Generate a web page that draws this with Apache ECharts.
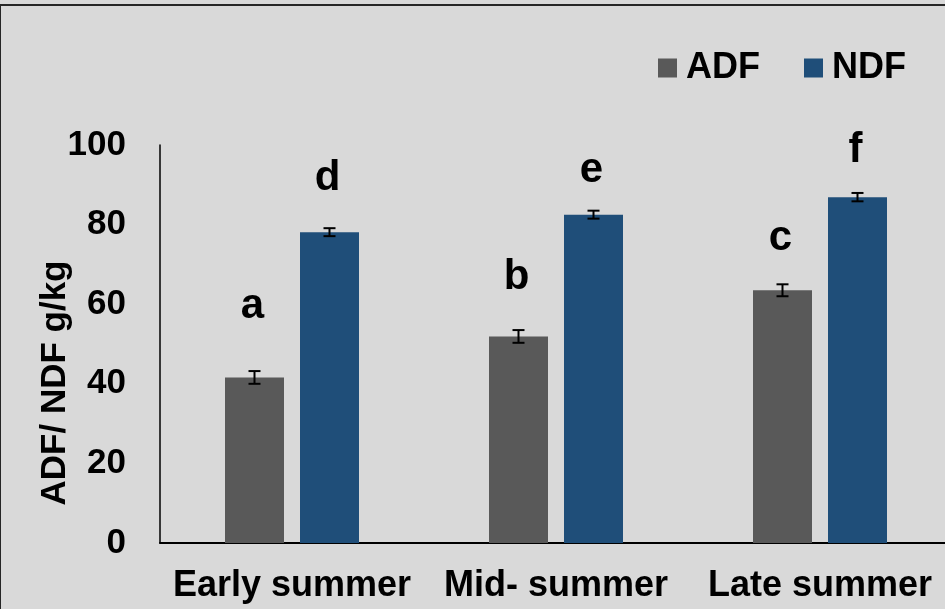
<!DOCTYPE html>
<html>
<head>
<meta charset="utf-8">
<script src="https://cdn.jsdelivr.net/npm/echarts@6/dist/echarts.min.js"></script>
<style>
html,body{margin:0;padding:0;background:#d9d9d9;}
#main{width:945px;height:609px;}
</style>
</head>
<body>
<div id="main"></div>
<script>
// ---- data ----
var categories = ['Early summer', 'Mid- summer', 'Late summer'];
var adfValues = [41.6, 51.9, 63.5];
var adfErrors = [1.6, 1.6, 1.5];
var ndfValues = [78.1, 82.5, 86.9];
var ndfErrors = [1.0, 1.0, 1.05];
var adfLetters = ['a', 'b', 'c'];
var adfLetterY = [59.5, 66.8, 76.6];
var ndfLetters = ['d', 'e', 'f'];
var ndfLetterY = [91.7, 93.7, 98.7];
var yTicks = [0, 20, 40, 60, 80, 100];

// ---- style constants ----
var FONT = "'Liberation Sans', Arial, sans-serif";
var BAR_W = 59, BAR_GAP = 16;
var OFFSET = (BAR_W + BAR_GAP) / 2;
var ADF_COLOR = '#595959', NDF_COLOR = '#1f4e79';

function errData(vals, errs) {
  return vals.map(function (v, i) { return [i, v, errs[i]]; });
}
function letterData(ys) {
  return ys.map(function (y, i) { return [i, y]; });
}
function errRender(sign) {
  return function (params, api) {
    var i = api.value(0), v = api.value(1), e = api.value(2);
    var top = api.coord([i, v + e]);
    var bot = api.coord([i, v - e]);
    var x = top[0] + sign * OFFSET;
    var cap = 6;
    var st = { stroke: '#000', lineWidth: 2 };
    return {
      type: 'group',
      children: [
        { type: 'line', shape: { x1: x, y1: top[1], x2: x, y2: bot[1] }, style: st },
        { type: 'line', shape: { x1: x - cap, y1: top[1], x2: x + cap, y2: top[1] }, style: st },
        { type: 'line', shape: { x1: x - cap, y1: bot[1], x2: x + cap, y2: bot[1] }, style: st }
      ]
    };
  };
}
function letterRender(sign, letters) {
  return function (params, api) {
    var p = api.coord([api.value(0), api.value(1)]);
    return {
      type: 'text',
      x: p[0] + sign * OFFSET - 2,
      y: p[1],
      style: {
        text: letters[params.dataIndex],
        font: 'bold 42px ' + FONT,
        fill: '#000',
        align: 'center',
        verticalAlign: 'middle'
      }
    };
  };
}

var chart = echarts.init(document.getElementById('main'), null, { renderer: 'canvas' });
chart.setOption({
  animation: false,
  backgroundColor: '#d9d9d9',
  textStyle: { fontFamily: FONT },
  graphic: [{
    type: 'rect',
    shape: { x: 0, y: 5, width: 1200, height: 900 },
    style: { fill: 'none', stroke: '#262626', lineWidth: 2 },
    silent: true
  }],
  legend: {
    left: 658,
    top: 50,
    padding: 0,
    itemWidth: 19,
    itemHeight: 19,
    itemGap: 44,
    icon: 'rect',
    textStyle: { fontSize: 36, fontWeight: 'bold', color: '#000', fontFamily: FONT, padding: [0, 0, 0, 4] },
    data: ['ADF', 'NDF']
  },
  grid: { left: 160, top: 145, width: 792, height: 398, outerBoundsMode: 'none', containLabel: false },
  xAxis: {
    type: 'category',
    data: categories,
    axisLine: { show: true, lineStyle: { color: '#000', width: 2 } },
    axisTick: { show: false },
    axisLabel: { interval: 0, margin: 25, fontSize: 36, fontWeight: 'bold', color: '#000', fontFamily: FONT },
    splitLine: { show: false }
  },
  yAxis: {
    type: 'value',
    min: yTicks[0],
    max: yTicks[yTicks.length - 1],
    interval: yTicks[1] - yTicks[0],
    name: 'ADF/ NDF g/kg',
    nameLocation: 'middle',
    nameGap: 87,
    nameMoveOverlap: false,
    nameRotate: 90,
    nameTextStyle: { fontSize: 35, fontWeight: 'bold', color: '#000', fontFamily: FONT, padding: [0, 78, 0, 0] },
    axisLine: { show: true, lineStyle: { color: '#000', width: 1.5 } },
    axisTick: { show: false },
    axisLabel: { margin: 34, fontSize: 35, fontWeight: 'bold', color: '#000', fontFamily: FONT },
    splitLine: { show: false }
  },
  series: [
    {
      name: 'ADF', type: 'bar', data: adfValues, barWidth: BAR_W, barGap: (BAR_GAP / BAR_W * 100) + '%',
      itemStyle: { color: ADF_COLOR }
    },
    {
      name: 'NDF', type: 'bar', data: ndfValues, barWidth: BAR_W,
      itemStyle: { color: NDF_COLOR }
    },
    { type: 'custom', data: errData(adfValues, adfErrors), renderItem: errRender(-1), clip: false, z: 5, silent: true },
    { type: 'custom', data: errData(ndfValues, ndfErrors), renderItem: errRender(1), clip: false, z: 5, silent: true },
    { type: 'custom', data: letterData(adfLetterY), renderItem: letterRender(-1, adfLetters), clip: false, z: 5, silent: true },
    { type: 'custom', data: letterData(ndfLetterY), renderItem: letterRender(1, ndfLetters), clip: false, z: 5, silent: true }
  ]
});
</script>
</body>
</html>
